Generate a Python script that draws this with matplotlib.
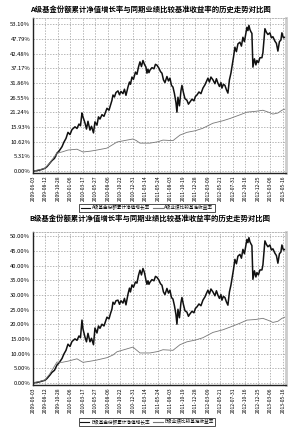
import matplotlib
matplotlib.use("Agg")
import matplotlib.pyplot as plt

plt.rcParams['font.family'] = ['Noto Sans CJK SC', 'DejaVu Sans']

# tick dates (21 evenly spaced ticks along the trading-day index)
dates = ["2009-06-03", "2009-08-12", "2009-10-28", "2010-01-06", "2010-03-17",
         "2010-05-27", "2010-08-06", "2010-10-22", "2010-12-31", "2011-03-14",
         "2011-05-24", "2011-08-03", "2011-10-19", "2011-12-28", "2012-03-09",
         "2012-05-21", "2012-07-31", "2012-10-16", "2012-12-25", "2013-03-06",
         "2013-05-16"]
tick_idx = [i * 50 for i in range(len(dates))]

# A share: cumulative NAV growth (%)
a_x = [0, 12, 24, 36, 48, 56, 68, 76, 86, 96, 104, 116, 124, 132, 140, 148, 156, 168,
       176, 184, 190, 196, 200, 208, 214, 220, 228, 234, 242, 248, 256, 262, 268, 276,
       284, 296, 304, 310, 316, 320, 326, 332, 340, 346, 352, 360, 366, 372, 380, 386,
       390, 396, 402, 410, 416, 422, 428, 434, 440, 446, 452, 456, 460, 464, 468, 476,
       484, 490, 496, 504, 510, 516, 522, 528, 536, 542, 548, 554, 560, 566, 572, 576,
       580, 586, 592, 596, 602, 608, 616, 622, 628, 636, 644, 650, 656, 664, 672, 680,
       688, 694, 700, 706, 712, 720, 728, 734, 740, 746, 752, 756, 762, 768, 774, 780,
       786, 792, 796, 802, 808, 814, 820, 828, 834, 840, 846, 852, 856, 860, 864, 868,
       872, 876, 880, 886, 892, 896, 902, 908, 916, 920, 924, 928, 934, 940, 948, 954,
       960, 968, 974, 980, 986, 992, 996, 1002, 1008]
a_y = [0.0, 0.1, 0.3, 0.6, 1.0, 1.6, 2.9, 3.8, 4.6, 6.5, 7.2, 8.8, 10.5, 11.8, 14.0, 13.2,
       15.0, 16.0, 15.4, 17.0, 16.4, 21.0, 19.6, 17.4, 15.2, 18.0, 14.8, 16.2, 13.8, 17.8,
       16.6, 19.6, 18.8, 20.4, 19.8, 22.7, 22.0, 23.8, 25.6, 27.5, 26.8, 28.4, 29.0, 27.6,
       28.8, 28.0, 29.6, 27.4, 30.4, 32.2, 31.4, 34.0, 33.2, 35.8, 35.0, 37.6, 39.5, 37.8,
       40.0, 38.6, 37.6, 35.4, 36.8, 35.6, 36.5, 37.4, 37.0, 38.6, 38.3, 37.2, 36.0, 35.4,
       33.0, 32.0, 34.2, 32.6, 33.6, 31.0, 30.4, 28.0, 24.8, 21.3, 26.7, 23.6, 29.0, 31.0,
       28.4, 26.2, 25.6, 24.2, 25.0, 26.0, 25.4, 27.0, 27.5, 28.6, 28.0, 30.0, 31.2, 32.4,
       33.6, 32.2, 34.0, 33.0, 31.6, 33.4, 31.8, 30.6, 32.0, 30.0, 31.4, 31.0, 29.4, 28.2,
       33.0, 35.4, 37.6, 41.0, 44.8, 43.2, 46.0, 46.6, 45.2, 48.4, 46.8, 50.0, 52.0, 50.8,
       52.7, 51.2, 50.4, 49.8, 37.6, 40.6, 38.4, 40.0, 39.2, 41.0, 41.0, 42.8, 47.0, 51.5,
       50.2, 49.4, 50.0, 48.2, 48.6, 47.0, 46.2, 43.4, 46.8, 47.4, 50.0, 48.2, 48.4]

# A share: benchmark return (%)
ab_x = [0, 28, 48, 68, 96, 116, 140, 176, 200, 230, 256, 296, 320, 336, 376, 400, 414,
        428, 468, 500, 520, 560, 588, 616, 650, 680, 720, 760, 788, 830, 856, 890, 920,
        945, 960, 980, 996, 1008]
ab_y = [0.0, 0.5, 1.0, 3.0, 6.5, 6.9, 7.6, 7.9, 6.9, 7.2, 7.6, 8.3, 9.6, 10.5, 11.2,
        11.6, 11.0, 10.1, 10.1, 10.6, 11.2, 11.0, 13.0, 14.0, 14.6, 15.5, 17.3, 18.2,
        19.0, 20.4, 21.3, 21.6, 22.0, 21.2, 20.6, 21.0, 22.0, 22.4]

# B share: cumulative NAV growth (%)
b_x = a_x
b_y = [0.0, 0.1, 0.3, 0.6, 0.9, 1.5, 2.7, 3.6, 4.3, 6.1, 6.8, 8.3, 9.9, 11.1, 13.2, 12.4,
       14.1, 15.0, 14.5, 16.0, 15.4, 21.4, 18.4, 15.6, 14.0, 16.9, 14.0, 15.2, 13.0, 18.7,
       17.0, 19.4, 18.6, 20.0, 19.4, 22.4, 21.8, 23.6, 25.2, 27.5, 26.8, 28.0, 28.2, 26.8,
       28.0, 27.2, 28.8, 26.6, 30.2, 32.3, 31.0, 33.4, 32.6, 34.4, 34.0, 36.6, 38.4, 36.8,
       39.0, 37.6, 35.0, 33.6, 34.8, 33.6, 34.3, 35.2, 34.8, 36.3, 36.0, 35.0, 33.8, 33.3,
       31.0, 30.1, 32.2, 30.6, 31.6, 29.1, 28.6, 26.3, 23.3, 20.0, 25.1, 22.2, 27.3, 29.1,
       26.7, 24.6, 24.1, 22.7, 23.5, 24.4, 23.9, 25.4, 25.9, 26.9, 26.3, 28.2, 29.3, 30.5,
       31.6, 30.3, 32.0, 31.0, 29.7, 31.4, 29.9, 28.8, 30.1, 28.2, 29.5, 29.1, 27.6, 26.5,
       31.0, 33.3, 35.3, 38.5, 42.1, 40.6, 43.2, 43.8, 42.5, 45.5, 44.0, 47.0, 48.9, 47.8,
       49.5, 48.1, 47.4, 46.8, 35.3, 38.2, 36.1, 37.6, 36.8, 38.5, 38.5, 40.2, 44.2, 48.4,
       47.2, 46.4, 47.0, 45.3, 45.7, 44.2, 43.4, 40.8, 44.0, 44.6, 47.0, 45.3, 45.5]

# B share: benchmark return (%)
bb_x = ab_x
bb_y = [0.0, 0.5, 1.0, 3.2, 7.1, 7.0, 7.4, 8.2, 7.0, 7.4, 7.8, 8.6, 9.5, 10.6, 11.6,
        12.2, 11.2, 10.2, 10.2, 10.7, 11.3, 11.1, 13.0, 14.0, 14.6, 15.4, 17.2, 18.1,
        19.0, 20.4, 21.4, 21.6, 22.0, 21.2, 20.6, 21.0, 22.0, 22.4]

a_ticks = [0, 5.31, 10.62, 15.93, 21.24, 26.55, 31.86, 37.17, 42.48, 47.79, 53.10]
b_ticks = [0, 5, 10, 15, 20, 25, 30, 35, 40, 45, 50]

fig = plt.figure(figsize=(3.0, 4.33), dpi=100)

panels = [
    dict(rect=[0.11, 0.6005, 0.843, 0.3575], x=a_x, y=a_y, bx=ab_x, by=ab_y,
         ticks=a_ticks, ylim=(-0.7, 55.3),
         title="A级基金份额累计净值增长率与同期业绩比较基准收益率的历史走势对比图",
         labels=["A级基金份额累计净值增长率", "A级业绩比较基准收益率"], leg_y=0.52, title_y=0.978),
    dict(rect=[0.11, 0.111, 0.843, 0.353], x=b_x, y=b_y, bx=bb_x, by=bb_y,
         ticks=b_ticks, ylim=(-0.7, 51.4),
         title="B级基金份额累计净值增长率与同期业绩比较基准收益率的历史走势对比图",
         labels=["B级基金份额累计净值增长率", "B级业绩比较基准收益率"], leg_y=0.025, title_y=0.497),
]

for p in panels:
    ax = fig.add_axes(p["rect"])
    l1, = ax.plot(p["x"], p["y"], color="#111111", lw=1.1)
    l2, = ax.plot(p["bx"], p["by"], color="#777777", lw=0.6)
    ax.set_xlim(0, 1012)
    ax.set_ylim(*p["ylim"])
    ax.set_xticks(tick_idx)
    ax.set_xticklabels(dates, rotation=90, fontsize=3.6)
    ax.set_yticks(p["ticks"])
    ax.set_yticklabels(["%.2f%%" % t for t in p["ticks"]], fontsize=4.2)
    ax.tick_params(length=0, pad=2)
    ax.grid(True, color="#999999", ls=(0, (2, 2)), lw=0.5)
    ax.spines["left"].set_color("#222222")
    ax.spines["left"].set_linewidth(1.0)
    ax.spines["bottom"].set_color("#222222")
    ax.spines["bottom"].set_linewidth(1.0)
    ax.spines["top"].set_color("#999999")
    ax.spines["top"].set_linestyle((0, (2, 2)))
    ax.spines["top"].set_linewidth(0.5)
    ax.spines["right"].set_color("#cccccc")
    ax.spines["right"].set_linewidth(2.0)
    fig.text(0.5, p["title_y"], p["title"], ha="center", va="center",
             fontsize=5.3, fontweight="bold")
    leg = fig.legend([l1, l2], p["labels"], loc="center", bbox_to_anchor=(0.49, p["leg_y"]),
                     ncol=2, fontsize=3.3, frameon=True, fancybox=False, handlelength=2.0,
                     borderpad=0.3, columnspacing=0.8, handletextpad=0.4)
    leg.get_frame().set_edgecolor("#000000")
    leg.get_frame().set_linewidth(0.6)
    for h in leg.get_lines():
        h.set_linewidth(0.8)

fig.savefig("out.png", dpi=100)
